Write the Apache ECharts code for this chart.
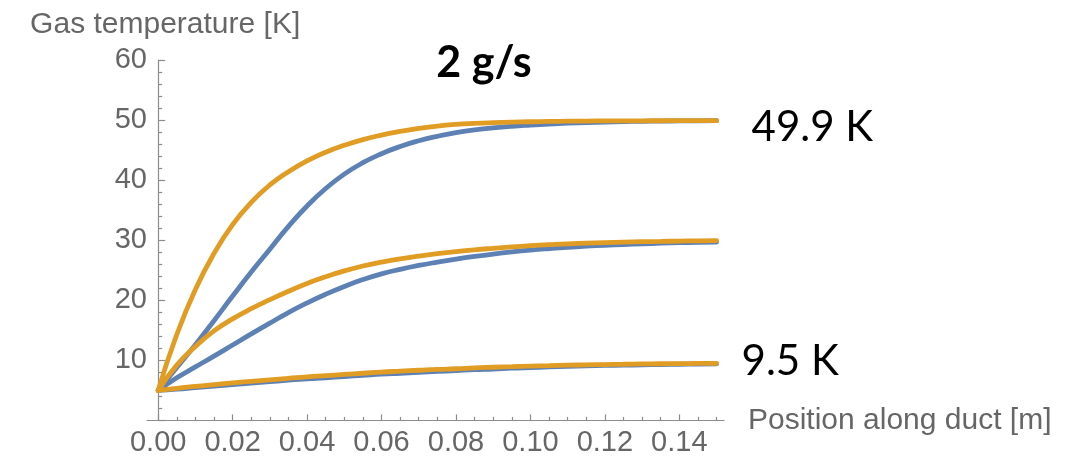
<!DOCTYPE html>
<html>
<head>
<meta charset="utf-8">
<script src="https://cdn.jsdelivr.net/npm/echarts@6/dist/echarts.min.js"></script>
<style>
  html, body { margin: 0; padding: 0; background: #ffffff; }
  #chart { width: 1079px; height: 463px; }
</style>
</head>
<body>
<div id="chart"></div>
<script>
// Position along the duct [m], sampled every 5 mm
const positions = [0, 0.005, 0.01, 0.015, 0.02, 0.025, 0.03, 0.035, 0.04, 0.045, 0.05,
                   0.055, 0.06, 0.065, 0.07, 0.075, 0.08, 0.085, 0.09, 0.095, 0.10,
                   0.105, 0.11, 0.115, 0.12, 0.125, 0.13, 0.135, 0.14, 0.145, 0.15];

// Gas temperature [K], three wall temperatures, two models each
const blueHigh   = [5, 8.8, 12.6, 16.6, 20.7, 24.7, 28.5, 32.3, 35.7, 38.6, 41.0,
                    42.9, 44.4, 45.6, 46.55, 47.3, 47.9, 48.35, 48.7, 48.97, 49.17,
                    49.34, 49.48, 49.59, 49.68, 49.74, 49.79, 49.83, 49.86, 49.88, 49.9];
const orangeHigh = [5, 14.3, 21.8, 27.8, 32.6, 36.3, 39.2, 41.4, 43.2, 44.65, 45.8,
                    46.75, 47.5, 48.1, 48.6, 49.0, 49.28, 49.45, 49.57, 49.66, 49.72,
                    49.77, 49.81, 49.84, 49.86, 49.87, 49.88, 49.89, 49.9, 49.9, 49.9];
const blueMid    = [5, 7.1, 8.9, 10.7, 12.55, 14.4, 16.2, 17.95, 19.55, 21.0, 22.3,
                    23.45, 24.4, 25.15, 25.8, 26.35, 26.85, 27.3, 27.7, 28.05, 28.35,
                    28.6, 28.82, 29.0, 29.15, 29.28, 29.4, 29.5, 29.58, 29.65, 29.7];
const orangeMid  = [5, 9.2, 12.3, 14.9, 16.9, 18.6, 20.1, 21.5, 22.8, 23.9, 24.9,
                    25.7, 26.35, 26.9, 27.35, 27.75, 28.1, 28.4, 28.65, 28.88, 29.08,
                    29.25, 29.4, 29.5, 29.6, 29.68, 29.75, 29.8, 29.85, 29.9, 29.93];
const blueLow    = [5, 5.2, 5.45, 5.7, 5.95, 6.2, 6.45, 6.7, 6.9, 7.1, 7.3,
                    7.5, 7.7, 7.85, 8.0, 8.15, 8.3, 8.45, 8.55, 8.7, 8.8,
                    8.9, 9.0, 9.08, 9.15, 9.2, 9.25, 9.3, 9.35, 9.38, 9.42];
const orangeLow  = [5, 5.35, 5.65, 5.95, 6.25, 6.5, 6.75, 7.0, 7.25, 7.45, 7.65,
                    7.85, 8.05, 8.2, 8.35, 8.5, 8.6, 8.75, 8.85, 8.95, 9.05,
                    9.13, 9.2, 9.25, 9.3, 9.35, 9.4, 9.43, 9.45, 9.48, 9.5];

// Tick positions on the position axis
const xMajorTicks = [0, 0.02, 0.04, 0.06, 0.08, 0.10, 0.12, 0.14];
const xMinorTicks = [0.005, 0.01, 0.015, 0.025, 0.03, 0.035, 0.045, 0.05, 0.055, 0.065, 0.07,
                     0.075, 0.085, 0.09, 0.095, 0.105, 0.11, 0.115, 0.125, 0.13, 0.135, 0.145, 0.15];

const BLUE = '#5E81B5';
const ORANGE = '#E19C24';
const AXIS_GRAY = '#8c8c8c';
const TEXT_GRAY = '#666666';
const AXIS_FONT = '"Liberation Sans", Arial, sans-serif';
const NOTE_FONT = 'Lato, "Open Sans", sans-serif';

const pairs = arr => positions.map((x, i) => [x, arr[i]]);

function curve(name, values, color, endLabel) {
  const s = {
    name: name,
    type: 'line',
    xAxisIndex: 0,
    yAxisIndex: 0,
    data: pairs(values),
    smooth: 0.5,
    showSymbol: false,
    symbol: 'none',
    lineStyle: { color: color, width: 4.8, cap: 'round' },
    emphasis: { disabled: true },
    z: color === ORANGE ? 3 : 2
  };
  if (endLabel) {
    s.endLabel = Object.assign({
      show: true,
      formatter: p => p.value[1].toFixed(1) + ' K',
      fontFamily: NOTE_FONT,
      fontSize: 42,
      color: '#000000',
      align: 'left',
      verticalAlign: 'middle'
    }, endLabel);
  }
  return s;
}

const chart = echarts.init(document.getElementById('chart'), null, { renderer: 'canvas' });

chart.setOption({
  animation: false,
  backgroundColor: '#ffffff',
  title: {
    text: '2 g/s',
    left: 479,
    top: 37,
    textAlign: 'center',
    textStyle: { fontFamily: NOTE_FONT, fontWeight: 'bold', fontSize: 43, color: '#000000' }
  },
  grid: {
    left: 147,
    right: 355,
    top: 60,
    bottom: 42.6,
    containLabel: false,
    outerBoundsMode: 'none'
  },
  xAxis: [
    {
      type: 'value',
      position: 'bottom',
      min: -0.003,
      max: 0.152,
      name: 'Position along duct [m]',
      nameLocation: 'end',
      nameGap: 24,
      nameTextStyle: {
        fontFamily: AXIS_FONT, fontSize: 30, color: TEXT_GRAY,
        align: 'left', verticalAlign: 'middle', padding: [0, 0, 18, 0]
      },
      axisLine: { show: true, onZero: true, lineStyle: { color: AXIS_GRAY, width: 1.2 } },
      axisTick: { show: true, inside: true, length: 6, customValues: xMajorTicks,
                  lineStyle: { color: AXIS_GRAY, width: 1.2 } },
      axisLabel: {
        show: true, customValues: xMajorTicks, margin: 8,
        formatter: v => v.toFixed(2),
        fontFamily: AXIS_FONT, fontSize: 29, color: TEXT_GRAY
      },
      splitLine: { show: false }
    },
    {
      type: 'value',
      position: 'bottom',
      min: -0.003,
      max: 0.152,
      axisLine: { show: false, onZero: true },
      axisTick: { show: true, inside: true, length: 3.5, customValues: xMinorTicks,
                  lineStyle: { color: AXIS_GRAY, width: 1.2 } },
      axisLabel: { show: false },
      splitLine: { show: false }
    }
  ],
  yAxis: {
    type: 'value',
    min: 0,
    max: 60,
    interval: 10,
    name: 'Gas temperature [K]',
    nameLocation: 'end',
    nameGap: 20,
    nameTextStyle: { fontFamily: AXIS_FONT, fontSize: 30, color: TEXT_GRAY, align: 'center',
                     padding: [0, 0, 0, 14] },
    axisLine: { show: true, onZero: true, lineStyle: { color: AXIS_GRAY, width: 1.2 } },
    axisTick: { show: true, inside: true, length: 7, lineStyle: { color: AXIS_GRAY, width: 1.2 } },
    minorTick: { show: true, splitNumber: 5, length: 4, lineStyle: { color: AXIS_GRAY, width: 1.2 } },
    axisLabel: {
      margin: 0,
      formatter: v => (v === 0 ? '' : String(v)),
      fontFamily: AXIS_FONT, fontSize: 29, color: TEXT_GRAY
    },
    splitLine: { show: false },
    minorSplitLine: { show: false }
  },
  series: [
    curve('blueHigh', blueHigh, BLUE),
    curve('blueMid', blueMid, BLUE),
    curve('blueLow', blueLow, BLUE),
    curve('orangeHigh', orangeHigh, ORANGE, { distance: 35, offset: [0, 7] }),
    curve('orangeMid', orangeMid, ORANGE),
    curve('orangeLow', orangeLow, ORANGE, { distance: 25, offset: [0, -2] })
  ]
});
</script>
</body>
</html>
